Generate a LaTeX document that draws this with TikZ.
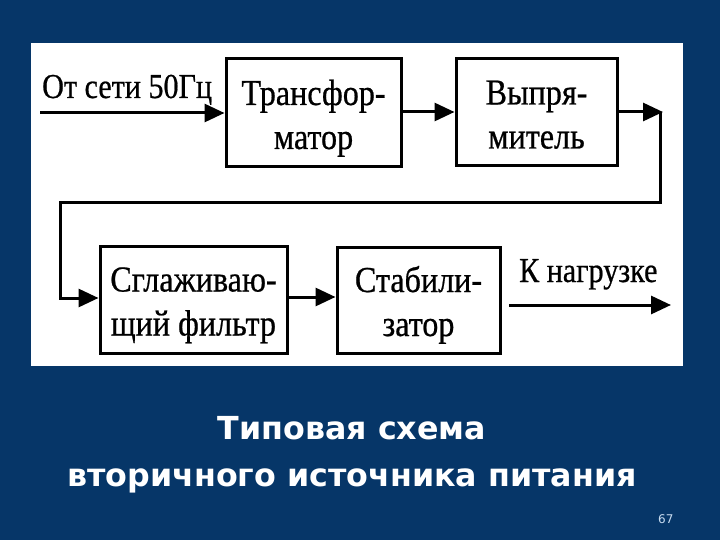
\documentclass[tikz,border=0pt]{standalone}
\usepackage{fontspec}
\usetikzlibrary{arrows.meta}
\newfontfamily\diagfont[FakeStretch=0.86,FakeBold=0.6]{Liberation Serif}
\newfontfamily\boxfont[FakeStretch=0.88,FakeBold=0.6]{Liberation Serif}
\newfontfamily\titlefont{DejaVu Sans}
\newcommand\topst{\rule{0pt}{36pt}}
\newcommand\botst{\rule[-8pt]{0pt}{8pt}}
\definecolor{slidebg}{RGB}{6,54,104}
\definecolor{pagenum}{RGB}{200,220,240}
\begin{document}
\begin{tikzpicture}[x=1pt,y=-1pt,
  blk/.style={draw=black,line width=3pt,fill=white,align=center,inner sep=0pt,
    font=\boxfont\fontsize{36.5}{44}\selectfont},
  wire/.style={line width=3pt,draw=black},
  arr/.style={wire,-{Triangle[length=20pt,width=18pt]}},
  lbl/.style={font=\diagfont\fontsize{35}{40}\selectfont,inner sep=0pt}]
\fill[slidebg] (0,0) rectangle (720,540);
\useasboundingbox (0,0) rectangle (720,540);
\fill[white] (31,43) rectangle (683,366);
% blocks
\node[blk,minimum width=175pt,minimum height=108pt] (trans) at (313.5,113) {\topst Трансфор-\\матор\botst};
\node[blk,minimum width=161pt,minimum height=107pt] (rect) at (536.5,112.5) {\topst Выпря-\\митель\botst};
\node[blk,minimum width=187pt,minimum height=107pt] (filt) at (193.5,299.5) {\topst Сглаживаю-\\щий фильтр\botst};
\node[blk,minimum width=163pt,minimum height=106pt] (stab) at (418.5,300) {\topst Стабили-\\затор\botst};
% coordinates
\coordinate (in) at (40,113);
\coordinate (c1) at (663,112);
\coordinate (c2) at (660,203);
\coordinate (c3) at (60,203);
\coordinate (c4) at (60,298);
\coordinate (o1) at (509,305);
\coordinate (o2) at (671,305);
% connectors
\draw[arr] (in) -- (in -| trans.west);
\draw[arr] (trans.east |- 0,112) -- (rect.west |- 0,112);
\draw[arr] (rect.east |- c1) -- (c1);
\draw[wire,line join=miter] (c2 |- c1) -- (c2) -- (c3) -- (c4) -- ++(10,0);
\draw[arr] (c4) -- (c4 -| filt.west);
\draw[arr] (filt.east |- 0,297) -- (stab.west |- 0,297);
\draw[arr] (o1) -- (o2);
% labels
\node[lbl,anchor=base west] (lin) at (42,98) {От сети 50Гц};
\node[lbl,anchor=base west] (lout) at (519,282) {К нагрузке};
% title
\node[font=\titlefont\bfseries\fontsize{31.7}{47}\selectfont,text=white,align=center] (title) at (352,455) {Типовая схема\\вторичного источника питания};
\node[font=\titlefont\fontsize{12}{14}\selectfont,text=pagenum,anchor=base east] (pg) at (677,523) {67};
\end{tikzpicture}
\end{document}
